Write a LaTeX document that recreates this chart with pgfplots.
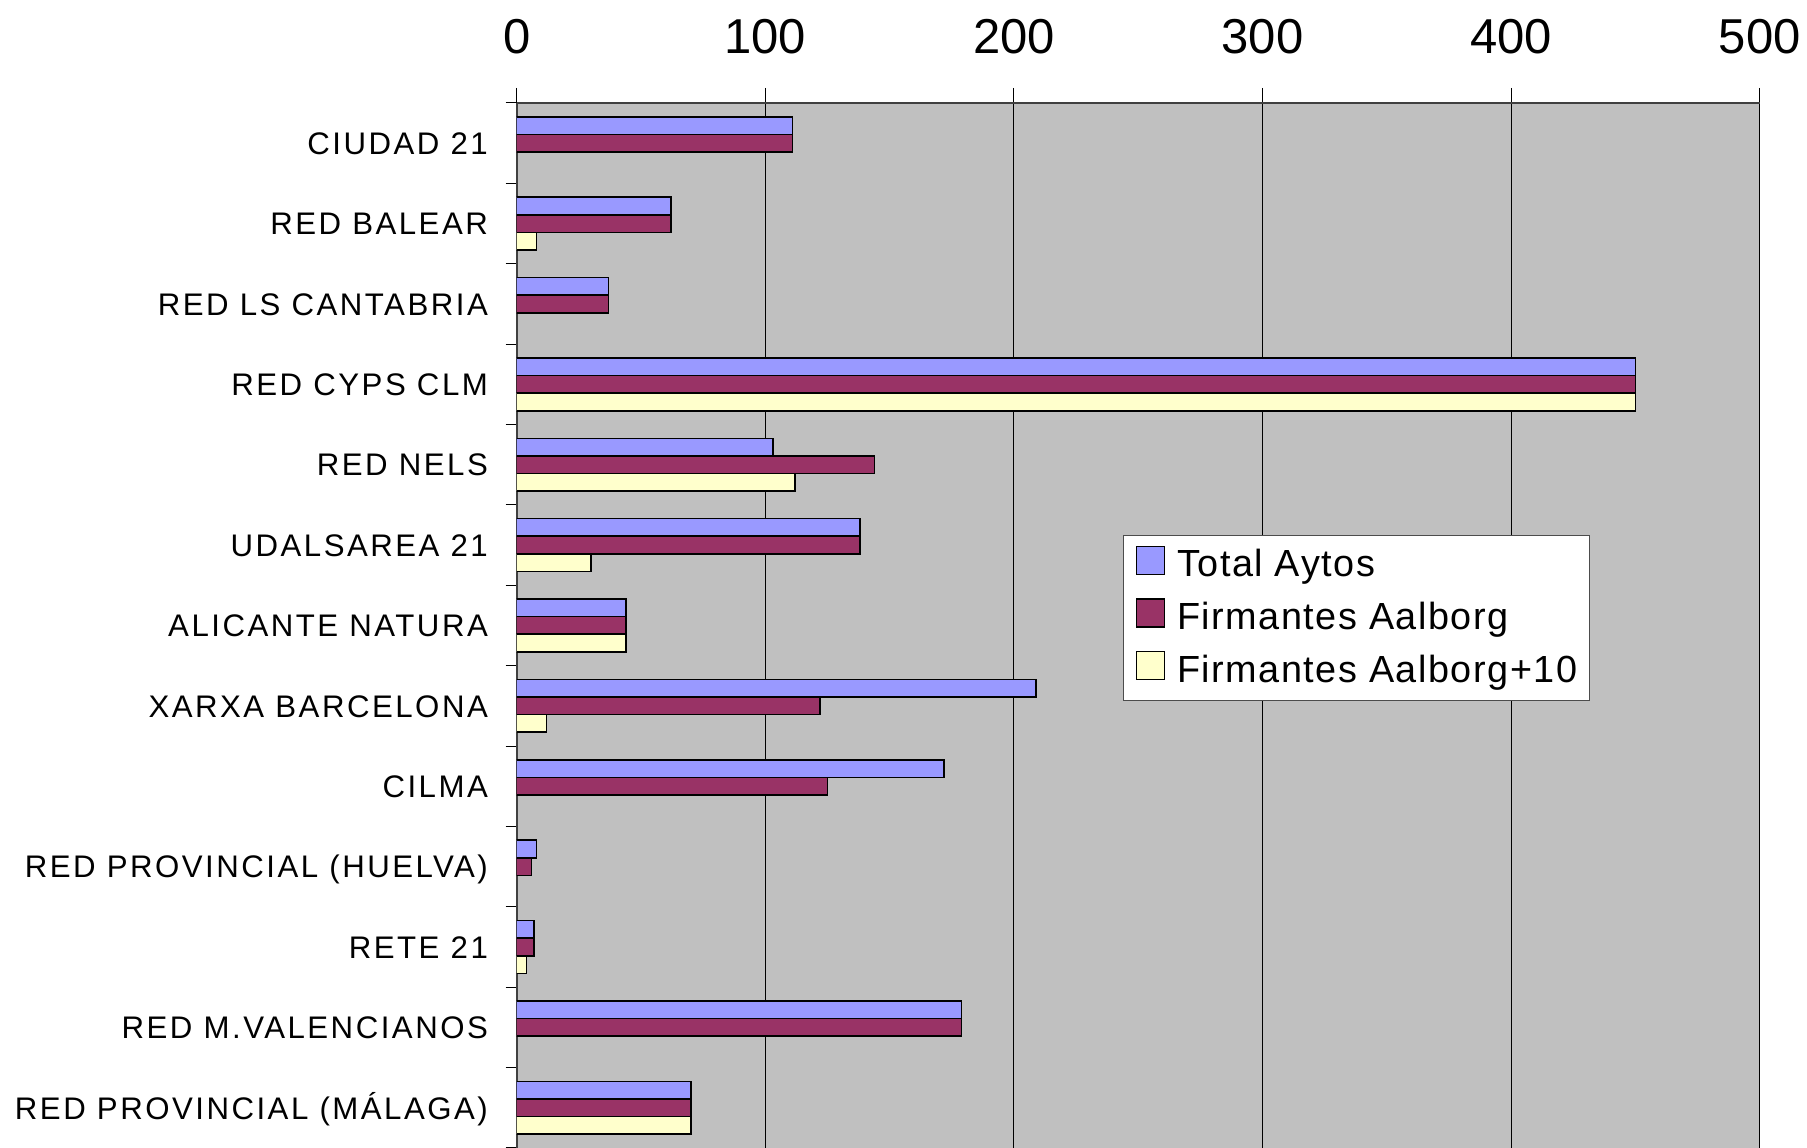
\documentclass[border=0pt]{standalone}
\usepackage{pgfplots}
\pgfplotsset{compat=1.18}
\usepackage{fontspec}
\setmainfont{Liberation Sans}
\newfontfamily\catfont[LetterSpace=8]{Liberation Sans}
\newfontfamily\legfont[LetterSpace=4]{Liberation Sans}
\definecolor{cBlue}{HTML}{9999FF}
\definecolor{cPurple}{HTML}{993366}
\definecolor{cYellow}{HTML}{FFFFCC}
\definecolor{cBg}{HTML}{C0C0C0}
\pgfplotsset{sw/.style={legend image code/.code={\draw[fill=#1,draw=black,line width=0.7pt] (0pt,-3.7pt) rectangle (14pt,10.3pt); \path (20pt,0pt);}}}
\begin{document}
\begin{tikzpicture}
\begin{axis}[
 scale only axis, width=621.5pt, height=522.5pt,
 xmin=0, xmax=500, ymin=-0.5, ymax=12.5,
 axis x line*=top, axis y line*=left,
 axis line style={-, black!75, line width=0.9pt},
 axis background/.style={fill=cBg},
 xbar, bar width=8.8pt,
 xtick={0,100,...,500},
 xmajorgrids, grid style={black, line width=0.5pt},
 tick align=outside, major tick length=5.5pt,
 xtick style={black, line width=0.5pt, /pgfplots/major tick length=7.5pt},
 ytick style={black, line width=0.5pt},
 xticklabel style={font=\fontsize{24.5}{28}\selectfont, anchor=base, inner sep=0pt, yshift=19.3pt},
 /pgf/number format/assume math mode=true,
 ytick={-0.5,0.5,...,12.5},
 y tick label as interval,
 yticklabels={RED PROVINCIAL (MÁLAGA), RED M.VALENCIANOS, RETE 21, RED PROVINCIAL (HUELVA), CILMA, XARXA BARCELONA, ALICANTE NATURA, UDALSAREA 21, RED NELS, RED CYPS CLM, RED LS CANTABRIA, RED BALEAR, CIUDAD 21},
 yticklabel style={font=\catfont\fontsize{15.6}{18}\selectfont, anchor=base east, inner sep=0pt, xshift=-8.7pt, yshift=-5.6pt},
 legend style={at={(0.4878,0.5866)}, anchor=north west, draw=black!70, line width=0.6pt, fill=white,
   font=\legfont\fontsize{18.9}{22}\selectfont, inner xsep=6pt, inner ysep=5pt, row sep=6.7pt,
   nodes={inner sep=0pt, text height=14pt, text depth=4pt}},
 legend cell align=left,
]
\addplot[fill=cBlue, draw=black, line width=0.8pt, bar shift=8.8pt, sw=cBlue] coordinates {
 (111,12) (62,11) (37,10) (450,9) (103,8) (138,7) (44,6) (209,5) (172,4) (8,3) (7,2) (179,1) (70,0)};
\addlegendentry{Total Aytos}
\addplot[fill=cPurple, draw=black, line width=0.8pt, bar shift=0pt, sw=cPurple] coordinates {
 (111,12) (62,11) (37,10) (450,9) (144,8) (138,7) (44,6) (122,5) (125,4) (6,3) (7,2) (179,1) (70,0)};
\addlegendentry{Firmantes Aalborg}
\addplot[fill=cYellow, draw=black, line width=0.8pt, bar shift=-8.8pt, sw=cYellow] coordinates {
 (8,11) (450,9) (112,8) (30,7) (44,6) (12,5) (4,2) (70,0)};
\addlegendentry{Firmantes Aalborg+10}
\end{axis}
\pgfresetboundingbox
\path ([xshift=-258.35pt]current axis.south west) rectangle ([xshift=23.65pt,yshift=51.5pt]current axis.north east);
\end{tikzpicture}
\end{document}
